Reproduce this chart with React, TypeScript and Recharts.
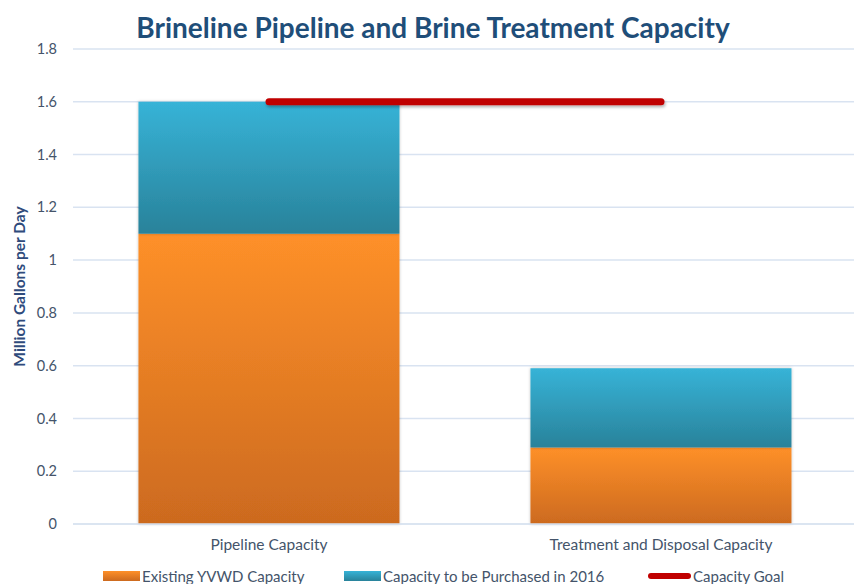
import React from 'react';
import { ComposedChart, Bar, Line, XAxis, YAxis, CartesianGrid } from 'recharts';

const categories = ['Pipeline Capacity', 'Treatment and Disposal Capacity'];
const existingCapacity = [1.1, 0.29];
const purchasedCapacity = [0.5, 0.3];
const capacityGoal = [1.6, 1.6];
const yTicks = [0, 0.2, 0.4, 0.6, 0.8, 1, 1.2, 1.4, 1.6, 1.8];

const seriesNames = {
    existing: 'Existing YVWD Capacity',
    purchased: 'Capacity to be Purchased in 2016',
    goal: 'Capacity Goal',
};

const data = categories.map((name, i) => ({
    name,
    existing: existingCapacity[i],
    purchased: purchasedCapacity[i],
    goal: capacityGoal[i],
}));

const FONT = 'Lato, "Open Sans", sans-serif';
const TEXT = '#44546A';

const LegendItem = ({ swatch, label, left }: { swatch: React.ReactNode; label: string; left: number }) => (
    <div style={{ position: 'absolute', left, top: 566, display: 'flex', alignItems: 'center', height: 20 }}>
        {swatch}
        <span style={{ fontSize: 15, color: TEXT, marginLeft: 2, whiteSpace: 'nowrap' }}>{label}</span>
    </div>
);

export default function App() {
    return (
        <div style={{ position: 'absolute', left: 0, top: 0, width: 854, height: 584, overflow: 'hidden', background: '#fff', fontFamily: FONT }}>
            <div style={{ position: 'absolute', top: 9, left: 6, width: 854, textAlign: 'center', fontSize: 28, lineHeight: '36px', fontWeight: 700, color: '#1F4E79' }}>
                Brineline Pipeline and Brine Treatment Capacity
            </div>
            <ComposedChart width={860} height={584} data={data} barCategoryGap="16.7%"
                margin={{ top: 49, right: 3, bottom: 30, left: 0 }}>
                <defs>
                    <linearGradient id="gradExisting" x1="0" y1="0" x2="0" y2="1">
                        <stop offset="0%" stopColor="#FE9029" />
                        <stop offset="100%" stopColor="#CC6A1F" />
                    </linearGradient>
                    <linearGradient id="gradPurchased" x1="0" y1="0" x2="0" y2="1">
                        <stop offset="0%" stopColor="#37B3D7" />
                        <stop offset="100%" stopColor="#29829A" />
                    </linearGradient>
                    <filter id="softShadow" x="-5%" y="-5%" width="110%" height="110%">
                        <feDropShadow dx="0" dy="0" stdDeviation="1.5" floodColor="#000" floodOpacity="0.25" />
                    </filter>
                    {/* flat line has no bbox height, so the shadow region is set in user space */}
                    <filter id="lineShadow" filterUnits="userSpaceOnUse" x="0" y="0" width="860" height="584">
                        <feDropShadow dx="1" dy="2" stdDeviation="1.5" floodColor="#000" floodOpacity="0.3" />
                    </filter>
                </defs>
                <CartesianGrid vertical={false} stroke="#D9E3F1" strokeWidth={1.5} />
                <XAxis dataKey="name" height={30} axisLine={{ stroke: '#D9E3F1', strokeWidth: 1.5 }} tickLine={false} tickSize={0} tickMargin={15}
                    tick={{ fontSize: 15.5, fill: TEXT, fontFamily: FONT }} />
                <YAxis domain={[0, 1.8]} ticks={yTicks} width={73} axisLine={false} tickLine={false} tickSize={0} tickMargin={16}
                    tick={{ fontSize: 14.5, fill: TEXT, fontFamily: FONT }}
                    label={{ value: 'Million Gallons per Day', angle: -90, position: 'insideLeft', offset: 19, textAnchor: 'middle',
                        style: { fontSize: 15.5, fontWeight: 700, fill: '#2F4B7C', fontFamily: FONT } }} />
                <Bar dataKey="existing" name={seriesNames.existing} stackId="cap" fill="url(#gradExisting)"
                    filter="url(#softShadow)" isAnimationActive={false} />
                <Bar dataKey="purchased" name={seriesNames.purchased} stackId="cap" fill="url(#gradPurchased)"
                    filter="url(#softShadow)" isAnimationActive={false} />
                <Line dataKey="goal" name={seriesNames.goal} stroke="#C00000" strokeWidth={7} strokeLinecap="round" dot={false}
                    activeDot={false} filter="url(#lineShadow)" isAnimationActive={false} />
            </ComposedChart>
            <LegendItem left={103} label={seriesNames.existing}
                swatch={<div style={{ width: 37, height: 10, background: 'linear-gradient(#FE9029, #CC6A1F)' }} />} />
            <LegendItem left={344} label={seriesNames.purchased}
                swatch={<div style={{ width: 37, height: 10, background: 'linear-gradient(#37B3D7, #29829A)' }} />} />
            <LegendItem left={648} label={seriesNames.goal}
                swatch={<div style={{ width: 43, height: 6, borderRadius: 3, background: '#C00000' }} />} />
        </div>
    );
}
